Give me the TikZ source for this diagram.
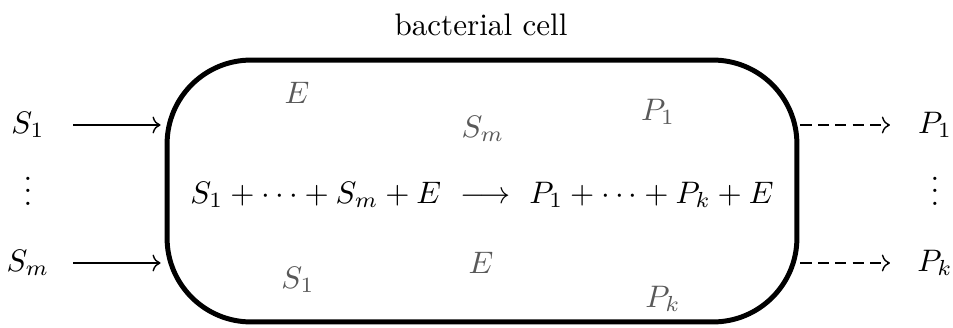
\documentclass[tikz,border=0pt]{standalone}
\usetikzlibrary{arrows.meta}
\begin{document}
\begin{tikzpicture}[x=0.3215pt,y=-0.3215pt,
  lbl/.style={inner sep=0pt, outer sep=0pt},
  inlbl/.style={lbl, anchor=base, text=black!65},
  dotslbl/.style={lbl, anchor=base},
  cellbox/.style={draw, line width=1.6pt, rounded corners=27pt, minimum width=202.5pt, minimum height=84.2pt, inner sep=0pt},
  inarrow/.style={->, line width=0.45pt},
  outarrow/.style={->, dash pattern=on 3.6pt off 2pt, line width=0.45pt}]
\useasboundingbox (0,0) rectangle (953,327);
\node[cellbox] (box) at (482,191) {};
\node[lbl, anchor=base] (title) at (481,35) {bacterial cell};
\node[lbl] (S1L) at (28,125) {$S_1$};
\node[dotslbl] (dL) at (28,205) {\smash{$\vdots$}};
\node[lbl] (SmL) at (28,263) {$S_m$};
\node[lbl] (P1R) at (935,125) {$P_1$};
\node[dotslbl] (dR) at (935,205) {\smash{$\vdots$}};
\node[lbl] (PkR) at (935,263) {$P_k$};
\node[lbl, anchor=base] (eq) at (482,203) {$S_1+\cdots+S_m+E\ \longrightarrow\ P_1+\cdots+P_k+E$};
\node[inlbl] (E1) at (297,103) {$E$};
\node[inlbl] (Sm) at (483,137) {$S_m$};
\node[inlbl] (P1) at (658,120) {$P_1$};
\node[inlbl] (S1) at (298,288) {$S_1$};
\node[inlbl] (E2) at (481,273) {$E$};
\node[inlbl] (Pk) at (663,307) {$P_k$};
\draw[inarrow, shorten <=14.5pt, shorten >=1.3pt] (S1L.center) -- (S1L.center -| box.west);
\draw[inarrow, shorten <=14.5pt, shorten >=1.3pt] (SmL.center) -- (SmL.center -| box.west);
\draw[outarrow, shorten <=0.3pt, shorten >=14.5pt] (P1R.center -| box.east) -- (P1R.center);
\draw[outarrow, shorten <=0.3pt, shorten >=14.5pt] (PkR.center -| box.east) -- (PkR.center);
\end{tikzpicture}
\end{document}
